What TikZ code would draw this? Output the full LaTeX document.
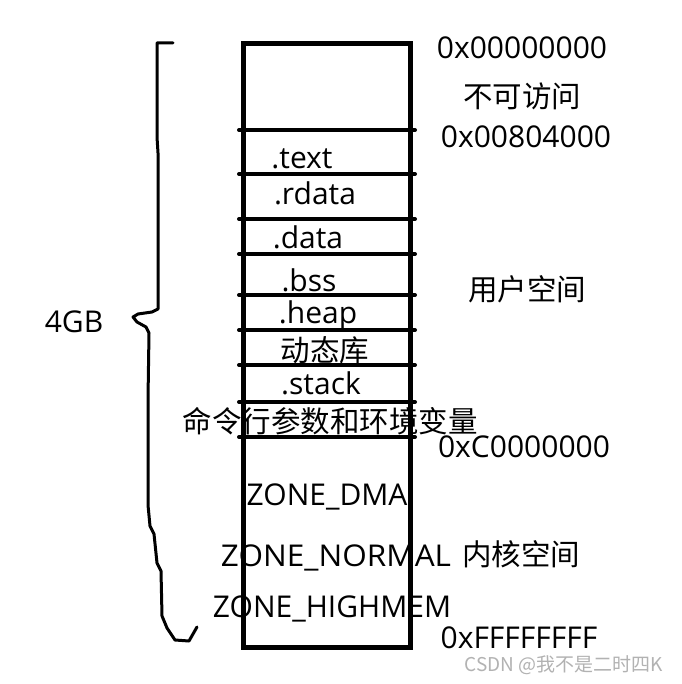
\documentclass[tikz,border=0pt]{standalone}
\usepackage{fontspec}
\setmainfont{Open Sans}
\newfontfamily\cjk{Noto Sans CJK SC}
\begin{document}
\begin{tikzpicture}[x=1pt,y=-1pt,
  lbl/.style={inner sep=0pt, font=\fontsize{30}{35}\selectfont, anchor=base},
  cjklbl/.style={inner sep=0pt, font=\fontsize{29.5}{35}\selectfont\cjk, anchor=center},
  sepline/.style={line width=4pt, line cap=round},
  bracket/.style={line width=3pt, line join=round, line cap=round},
  wm/.style={inner sep=0pt, font=\fontsize{19}{22}\selectfont\cjk, text=black!30}]
\useasboundingbox (0,0) rectangle (681,684);
\fill[white] (0,0) rectangle (681,684);
% memory block
\node[draw, line width=5pt, inner sep=0pt, minimum width=167pt, minimum height=603pt] (mem) at (326.5,345.5) {};
% separators
\foreach \yy [count=\i] in {130,174,219,254,295,330,365,402,437}{
  \coordinate (l\i) at (239,\yy);
  \coordinate (r\i) at (415,\yy);
  \draw[sepline] (l\i) -- (r\i);
}
% section labels
\node[lbl] (text) at (302,169) {.text};
\node[lbl] (rdata) at (315,205) {.rdata};
\node[lbl] (data) at (308,248) {.data};
\node[lbl] (bss) at (309,291) {.bss};
\node[lbl] (heap) at (318,323) {.heap};
\node[cjklbl] (dyn) at (325,350) {动态库};
\node[lbl] (stack) at (321,394) {.stack};
\node[cjklbl] (args) at (330,421) {命令行参数和环境变量};
\node[lbl] (dma) at (327,505) {ZONE\_DMA};
\node[lbl, xscale=1.05] (normal) at (336,566) {ZONE\_NORMAL};
\node[cjklbl] (kernel) at (521,554) {内核空间};
\node[lbl] (high) at (332,617) {ZONE\_HIGHMEM};
% addresses
\node[lbl] (a0) at (522,59) {0x00000000};
\node[cjklbl] (na) at (522,96) {不可访问};
\node[lbl] (a1) at (526,148) {0x00804000};
\node[cjklbl] (user) at (527,289) {用户空间};
\node[lbl] (a2) at (524,457) {0xC0000000};
\node[lbl] (a3) at (519,648) {0xFFFFFFFF};
\node[lbl] (gb) at (74,332) {4GB};
% brace
\draw[bracket] (173,43) -- (157,43) -- (157,137) -- (158,153) -- (158,309)
  -- (152,312) -- (138,314) -- (133,317) -- (137,322) -- (146,327) -- (149,333)
  -- (148,399) -- (148,505) -- (150,526) -- (154,534) -- (157,563) -- (161,571)
  -- (162,616) -- (167,628) -- (175,640) -- (189,641) -- (197,627);
% watermark
\node[wm] (mark) at (564,665) {CSDN @我不是二时四K};
\end{tikzpicture}
\end{document}
